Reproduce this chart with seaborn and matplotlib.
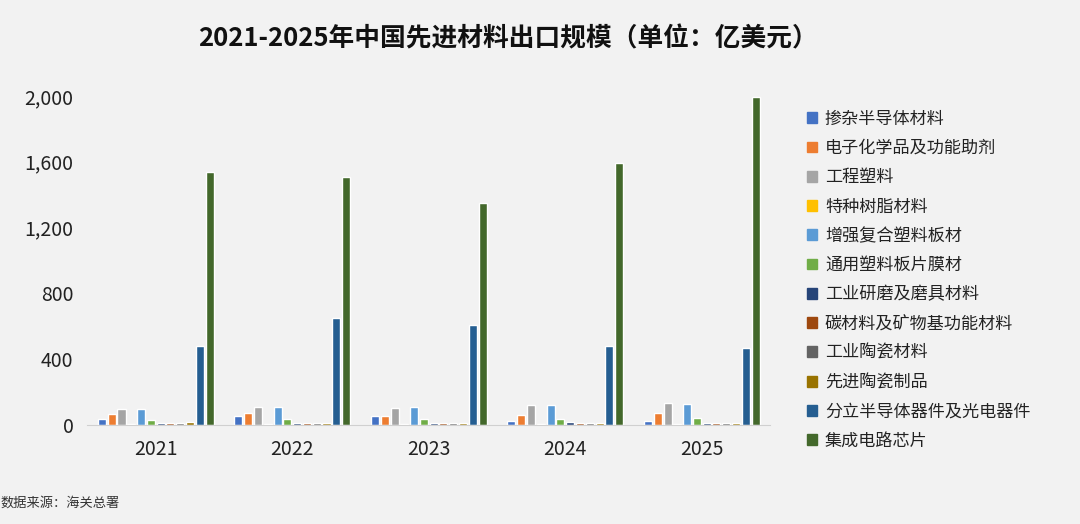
import pandas as pd
import numpy as np
import matplotlib
matplotlib.use('Agg')
import matplotlib.pyplot as plt
import seaborn as sns

# data (亿美元)
years = ['2021', '2022', '2023', '2024', '2025']
categories = ['掺杂半导体材料', '电子化学品及功能助剂', '工程塑料', '特种树脂材料',
              '增强复合塑料板材', '通用塑料板片膜材', '工业研磨及磨具材料',
              '碳材料及矿物基功能材料', '工业陶瓷材料', '先进陶瓷制品',
              '分立半导体器件及光电器件', '集成电路芯片']
doped_semi = [36, 57, 57, 26, 22]
elec_chem = [65, 71, 57, 63, 71]
eng_plastic = [97, 111, 105, 123, 132]
special_resin = [4, 4, 4, 4, 4]
reinforced_sheet = [96, 108, 109, 119, 128]
general_film = [30, 36, 36, 36, 43]
abrasive = [10, 10, 10, 16, 10]
carbon = [10, 10, 10, 10, 10]
ceramic_mat = [10, 10, 10, 10, 10]
adv_ceramic = [18, 14, 10, 10, 10]
discrete_semi = [480, 649, 608, 478, 468]
ic_chips = [1538, 1508, 1352, 1592, 1995]

series = [doped_semi, elec_chem, eng_plastic, special_resin, reinforced_sheet,
          general_film, abrasive, carbon, ceramic_mat, adv_ceramic,
          discrete_semi, ic_chips]
colors = ['#4472C4', '#ED7D31', '#A5A5A5', '#FFC000', '#5B9BD5', '#70AD47',
          '#264478', '#9E480E', '#636363', '#997300', '#255E91', '#43682B']

rows = []
for cat, vals in zip(categories, series):
    for yr, v in zip(years, vals):
        rows.append({'year': yr, 'category': cat, 'value': v})
df = pd.DataFrame(rows)

sns.set_style('white')
plt.rcParams['font.family'] = ['Noto Sans CJK SC', 'DejaVu Sans']
bg = '#f2f2f2'

fig = plt.figure(figsize=(10.8, 5.24), dpi=100, facecolor=bg)
ax = fig.add_axes([0.081, 0.189, 0.632, 0.628], facecolor=bg)

sns.barplot(data=df, x='year', y='value', hue='category', hue_order=categories,
            palette=colors, width=0.86, gap=0.18, ax=ax, legend=False,
            saturation=1, errorbar=None)

ax.set_ylim(0, 2000)
ax.set_xlim(-0.5, 4.5)
ax.set_yticks([0, 400, 800, 1200, 1600, 2000])
ax.set_yticklabels(['{:,}'.format(v) for v in [0, 400, 800, 1200, 1600, 2000]])
ax.set_xlabel('')
ax.set_ylabel('')
ax.tick_params(axis='y', length=0, labelsize=14, pad=10, colors='#222222')
ax.tick_params(axis='x', which='major', length=0, labelsize=14, pad=10, colors='#222222')
ax.set_xticks(np.arange(-0.5, 5, 1), minor=True)
ax.tick_params(axis='x', which='minor', length=5, color='#cfcfcf', width=1, direction='out')
for s in ['top', 'right', 'left']:
    ax.spines[s].set_visible(False)
ax.spines['bottom'].set_color('#d0d0d0')
ax.grid(False)

handles = [plt.Rectangle((0, 0), 1, 1, color=c) for c in colors]
fig.legend(handles, categories, loc='upper left', bbox_to_anchor=(0.733, 0.82),
           frameon=False, fontsize=12.3, handlelength=0.6, handleheight=0.6,
           labelspacing=0.66, handletextpad=0.45, labelcolor='#222222')

fig.text(0.47, 0.925, '2021-2025年中国先进材料出口规模（单位：亿美元）', ha='center', va='center',
         fontsize=18.5, fontweight='bold', color='#111111')
fig.text(0.0, 0.04, '数据来源：海关总署', ha='left', va='center', fontsize=9.5,
         style='italic', color='#333333')

fig.savefig('out.png', dpi=100, facecolor=bg)
